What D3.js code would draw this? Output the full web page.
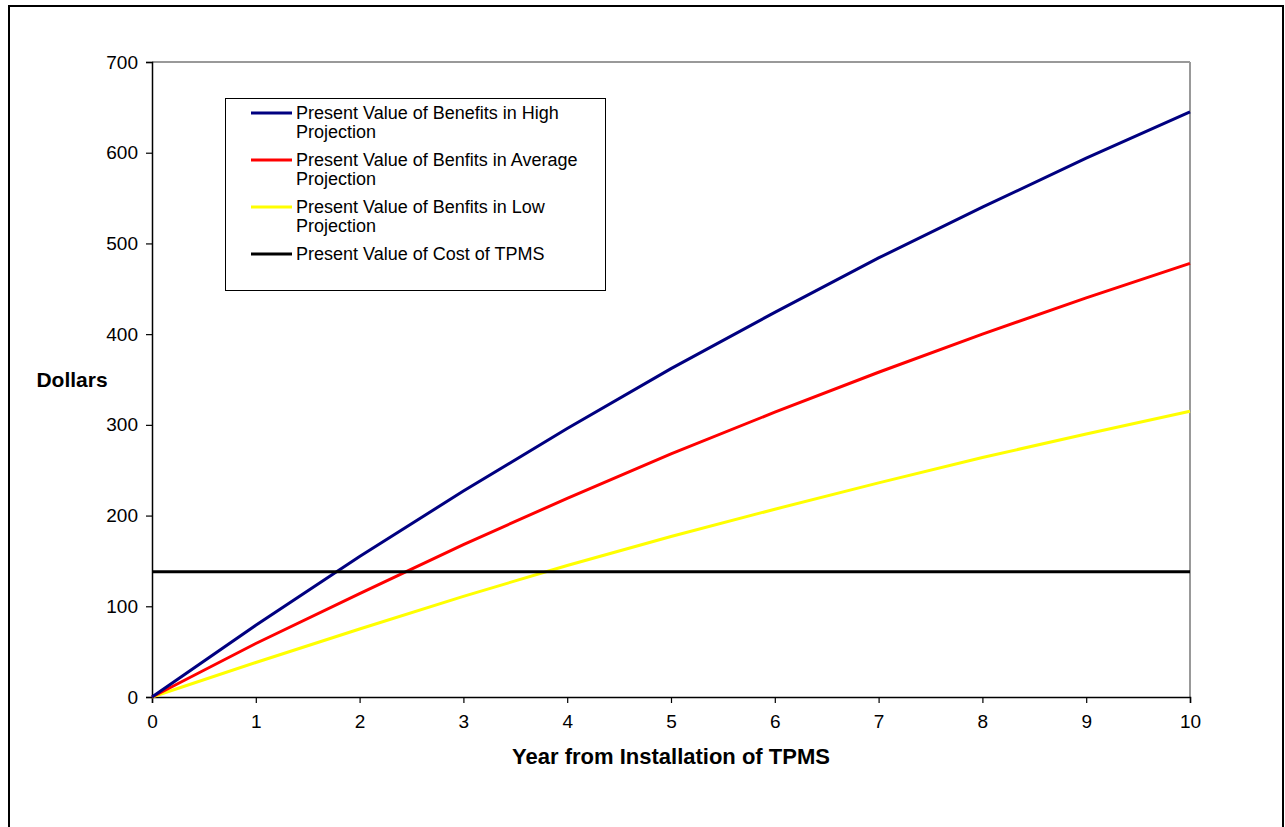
<!DOCTYPE html>
<html><head><meta charset="utf-8">
<script src="https://cdn.jsdelivr.net/npm/d3@7"></script>
<style>body{margin:0;background:#fff}svg{display:block;font-family:"Liberation Sans",Arial,sans-serif}</style>
</head><body>
<svg id="c" width="1285" height="827"></svg>
<script>
const years = [0,1,2,3,4,5,6,7,8,9,10];
const highValues = [0,79,155,227,296,362,424,484,540,594,645];
const avgValues  = [0,59,114,168,219,268,314,358,400,440,478];
const lowValues  = [0,38,75,111,145,177,207,236,264,290,315];
const costValues = [138,138,138,138,138,138,138,138,138,138,138];
const seriesNames = [
  ["Present Value of Benefits in High","Projection"],
  ["Present Value of Benfits in Average","Projection"],
  ["Present Value of Benfits in Low","Projection"],
  ["Present Value of Cost of TPMS"]
];
const seriesColors = ["#000080","#ff0000","#ffff00","#000000"];
const yTicks = [0,100,200,300,400,500,600,700];
const xTitle = "Year from Installation of TPMS";
const yTitle = "Dollars";

const svg = d3.select("#c");
svg.append("rect").attr("x",9).attr("y",6).attr("width",1274).attr("height",830)
  .attr("fill","none").attr("stroke","#000").attr("stroke-width",2);

const x = d3.scaleLinear().domain([0,10]).range([152,1190]);
const y = d3.scaleLinear().domain([0,700]).range([697,62]);

svg.append("line").attr("x1",x(0)).attr("x2",x(10)).attr("y1",y(700)).attr("y2",y(700)).attr("stroke","#999").attr("stroke-width",2);
svg.append("line").attr("x1",x(10)).attr("x2",x(10)).attr("y1",y(700)).attr("y2",y(0)).attr("stroke","#999").attr("stroke-width",2);

const yAxis = svg.append("g").attr("transform",`translate(${x(0)},0)`)
  .call(d3.axisLeft(y).tickValues(yTicks).tickSize(6).tickPadding(8).tickFormat(d3.format("d")));
const xAxis = svg.append("g").attr("transform",`translate(0,${y(0)})`)
  .call(d3.axisBottom(x).tickValues(years).tickSize(6).tickPadding(12).tickFormat(d3.format("d")));
[yAxis,xAxis].forEach(a=>{
  a.attr("font-size",19).attr("font-family","Liberation Sans, Arial, sans-serif");
  a.selectAll("path").attr("stroke","#000").attr("stroke-width",1.5);
  a.selectAll("line").attr("stroke","#000").attr("stroke-width",1.2);
  a.selectAll("text").attr("fill","#000");
});

const allSeries = [highValues,avgValues,lowValues,costValues];
const line = d3.line().x((d,i)=>x(years[i])).y(d=>y(d));
[2,1,0,3].forEach(k=>{
  svg.append("path").datum(allSeries[k]).attr("d",line)
    .attr("fill","none").attr("stroke",seriesColors[k]).attr("stroke-width",3);
});

svg.append("text").attr("x",72).attr("y",387).attr("text-anchor","middle")
  .attr("font-size",21).attr("font-weight","bold").text(yTitle);
svg.append("text").attr("x",671).attr("y",764).attr("text-anchor","middle")
  .attr("font-size",22).attr("font-weight","bold").text(xTitle);

const lg = svg.append("g");
lg.append("rect").attr("x",225.5).attr("y",98.5).attr("width",380).attr("height",192)
  .attr("fill","#fff").attr("stroke","#000").attr("stroke-width",1);
seriesNames.forEach((lines,i)=>{
  const yy = 113 + i*47;
  lg.append("line").attr("x1",251).attr("x2",292).attr("y1",yy).attr("y2",yy)
    .attr("stroke",seriesColors[i]).attr("stroke-width",3);
  lines.forEach((t,j)=>{
    lg.append("text").attr("x",296).attr("y",yy+6+j*19).attr("font-size",18).attr("fill","#000").text(t);
  });
});
</script>
</body></html>
